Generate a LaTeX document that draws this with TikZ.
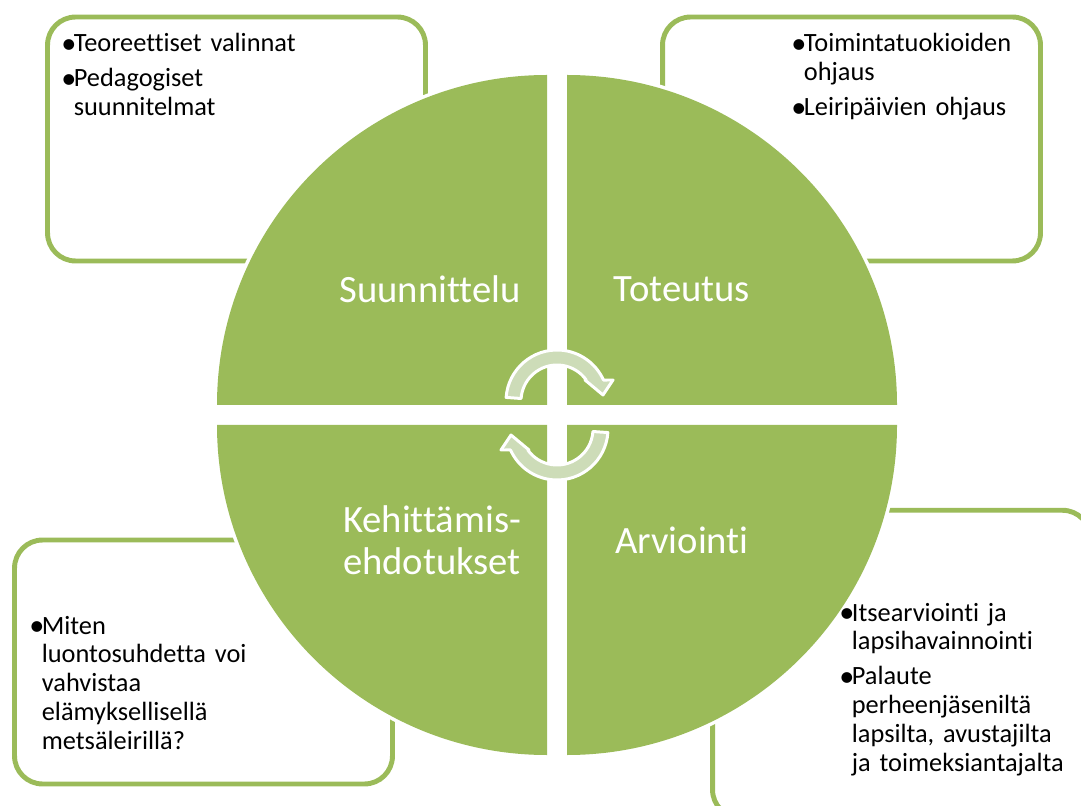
\documentclass[tikz,border=0pt]{standalone}
\usepackage{fontspec}
\setmainfont{Carlito}[Ligatures=NoCommon]
\usepackage{tikz}
\usetikzlibrary{calc, positioning}
\definecolor{leafgreen}{HTML}{9BBB59}
\definecolor{palegreen}{HTML}{CDDCB8}
\newcommand{\bitem}[1]{\hangindent=0.25cm\hangafter=1\noindent
  \makebox[0.25cm][l]{\raisebox{-0.1ex}{\scalebox{1.15}{•}}}#1\par}
\newcommand{\itemgap}{\vspace{3.4pt}}
\tikzset{
  quarter/.style={fill=leafgreen, preaction={draw=white, line width=4pt}},
  infobox/.style={rectangle, draw=leafgreen, line width=2.8pt, rounded corners=0.56cm,
                  fill=white, minimum width=7.56cm, minimum height=#1, inner sep=0pt},
  infobox/.default=4.88cm,
  itemtext/.style={anchor=base west, inner sep=0pt, text width=#1, align=left,
                   font=\fontsize{15}{16.5}\selectfont},
  itemtext/.default=6.5cm,
  phase/.style={text=white, align=center, inner sep=0pt,
                font=\fontsize{22}{23.8}\selectfont},
  cyclearrow/.style={fill=palegreen, draw=white, line width=1.7pt, line join=round},
  turnarrow/.pic={
    \path[cyclearrow] (176:36) -- (176:51)
      arc[start angle=176, end angle=24.3, radius=51]
      -- (56,21) -- (46,6) -- (28,21) -- (35.7:36)
      arc[start angle=35.7, end angle=176, radius=36] -- cycle;
  },
}

\begin{document}
\begin{tikzpicture}[x=0.02cm, y=0.02cm]
\useasboundingbox (0,0) rectangle (1081,805);
\clip (0,0) rectangle (1081,805);
\fill[white] (0,0) rectangle (1081,805);

% ── kehykset ─────────────────────────────────────────────────────────────────
\node[infobox] (tlbox) at (236.5,666) {};
\node[infobox] (trbox) at (851.5,666) {};
\node[infobox] (blbox) at (203.5,143) {};
\node[infobox=6.15cm] (brbox) at (901.5,141) {};

% ── ympyrän neljännekset ─────────────────────────────────────────────────────
\path[quarter] (547,400) -- (217,400) arc[start angle=180, end angle=90, radius=330] -- cycle;
\path[quarter] (567,400) -- (567,730) arc[start angle=90, end angle=0, radius=330] -- cycle;
\path[quarter] (547,380) -- (547,50) arc[start angle=270, end angle=180, radius=330] -- cycle;
\path[quarter] (567,380) -- (897,380) arc[start angle=0, end angle=-90, radius=330] -- cycle;

\node[phase] (plan) at (430,516) {Suunnittelu};
\node[phase] (doit) at (682,516) {Toteutus};
\node[phase] (dev)  at (432,265) {Kehittämis-\\ehdotukset};
\node[phase] (eval) at (682,265) {Arviointi};

% kiertonuolet
\pic at (557,404) {turnarrow};
\pic[rotate=180] at (557,376) {turnarrow};

% ── tekstit ──────────────────────────────────────────────────────────────────
\node[itemtext] (tltext) at (61,753)
  {\bitem{Teoreettiset valinnat}\itemgap\bitem{Pedagogiset\newline suunnitelmat}};
\node[itemtext] (trtext) at (791,753)
  {\bitem{Toimintatuokioiden\newline ohjaus}\itemgap\bitem{Leiripäivien ohjaus}};
\node[itemtext] (bltext) at (29,171)
  {\bitem{Miten\newline luontosuhdetta voi\newline vahvistaa\newline
   elämyksellisellä\newline metsäleirillä?}};
\node[itemtext] (brtext) at (839,184)
  {\bitem{Itsearviointi ja\newline lapsihavainnointi}\itemgap
   \bitem{Palaute\newline perheenjäseniltä\newline lapsilta, avustajilta\newline
   ja toimeksiantajalta}};

\end{tikzpicture}
\end{document}
